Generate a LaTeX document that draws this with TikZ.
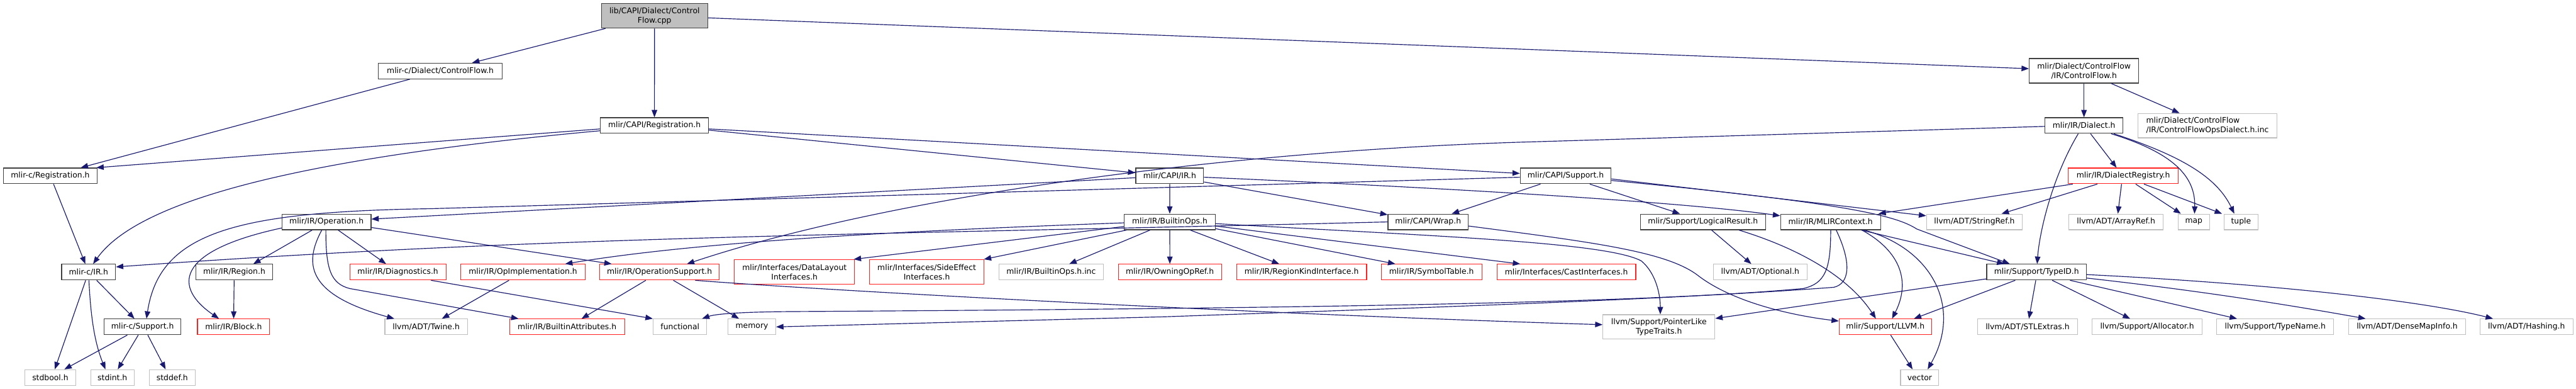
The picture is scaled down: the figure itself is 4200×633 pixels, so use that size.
\documentclass[tikz,border=0pt]{standalone}
\usepackage{fontspec}
\setmainfont{DejaVu Sans}
\usetikzlibrary{arrows.meta,calc}
\definecolor{edgecol}{HTML}{191970}
\definecolor{nodeblk}{HTML}{404040}
\definecolor{nodered}{HTML}{FF2020}
\definecolor{nodegry}{HTML}{BFBFBF}
\definecolor{rootfill}{HTML}{BFBFBF}
\tikzset{
 base/.style={rectangle, inner sep=0pt, minimum height=25.5pt, font=\fontsize{12.7}{15.3}\selectfont, line width=1.2pt, fill=white},
 blk/.style={base, draw=nodeblk},
 redn/.style={base, draw=nodered},
 gryn/.style={base, draw=nodegry},
 rootn/.style={base, draw=nodeblk, fill=rootfill},
 two/.style={minimum height=40pt, align=center},
 dep/.style={draw=edgecol, line width=1.2pt, -{Triangle[length=12pt,width=9pt]}},
}
\begin{document}
\begin{tikzpicture}[x=1pt,y=-1pt]
\useasboundingbox[fill=white] (0,0) rectangle (4200,633);
% row 1
\node[rootn,two,minimum width=173.6pt] (lib) at (1067.2,25.8) {lib/CAPI/Dialect/Control\\Flow.cpp};
% row 2
\node[blk,minimum width=201.8pt] (dialc) at (717.9,115.7) {mlir-c/Dialect/ControlFlow.h};
\node[blk,two,minimum width=178.5pt] (cfh) at (3397.8,115.3) {mlir/Dialect/ControlFlow\\/IR/ControlFlow.h};
% row 3
\node[blk,minimum width=176pt] (regcapi) at (1067,204.5) {mlir/CAPI/Registration.h};
\node[blk,minimum width=126.8pt] (dialect) at (3397.8,204.5) {mlir/IR/Dialect.h};
\node[gryn,minimum height=39.6pt,minimum width=226.8pt,align=left] (cfinc) at (3599.1,204.7) {mlir/Dialect/ControlFlow\\/IR/ControlFlowOpsDialect.h.inc};
% row 4
\node[blk,minimum width=153pt] (regc) at (82,286.5) {mlir-c/Registration.h};
\node[blk,minimum width=110.7pt] (capiir) at (1907.1,286.5) {mlir/CAPI/IR.h};
\node[blk,minimum width=148.2pt] (capisup) at (2552.7,286.5) {mlir/CAPI/Support.h};
\node[redn,minimum width=179pt] (dreg) at (3461.8,286.5) {mlir/IR/DialectRegistry.h};
% row 5
\node[blk,minimum width=145pt] (operation) at (532.4,361.5) {mlir/IR/Operation.h};
\node[blk,minimum width=148pt] (bops) at (1907.2,361.5) {mlir/IR/BuiltinOps.h};
\node[blk,minimum width=130.8pt] (wrap) at (2328.4,361.5) {mlir/CAPI/Wrap.h};
\node[blk,minimum width=204pt] (logres) at (2776.6,361.5) {mlir/Support/LogicalResult.h};
\node[blk,minimum width=163pt] (mlirctx) at (2984.6,361.5) {mlir/IR/MLIRContext.h};
\node[gryn,minimum width=156.2pt] (stringref) at (3219.2,361.5) {llvm/ADT/StringRef.h};
\node[gryn,minimum width=153.6pt] (arrayref) at (3450,361.5) {llvm/ADT/ArrayRef.h};
\node[gryn,minimum width=50.9pt] (map) at (3576.8,361.5) {map};
\node[gryn,minimum width=55pt] (tuple) at (3653.8,361.5) {tuple};
% row 6
\node[blk,minimum width=88pt] (irc) at (144.4,443.3) {mlir-c/IR.h};
\node[blk,minimum width=125.4pt] (region) at (381.9,443.3) {mlir/IR/Region.h};
\node[redn,minimum width=157pt] (diag) at (648.7,443.3) {mlir/IR/Diagnostics.h};
\node[redn,minimum width=202.7pt] (opimpl) at (852.7,443.3) {mlir/IR/OpImplementation.h};
\node[redn,minimum width=195pt] (opsupp) at (1075.3,443.3) {mlir/IR/OperationSupport.h};
\node[redn,two,minimum width=196pt] (dli) at (1295.3,443) {mlir/Interfaces/DataLayout\\Interfaces.h};
\node[redn,two,minimum width=187pt] (sei) at (1511,443) {mlir/Interfaces/SideEffect\\Interfaces.h};
\node[gryn,minimum width=170.5pt] (binc) at (1713.8,443.3) {mlir/IR/BuiltinOps.h.inc};
\node[redn,minimum width=168.3pt] (owning) at (1907.4,443.3) {mlir/IR/OwningOpRef.h};
\node[redn,minimum width=212pt] (rki) at (2122.1,443.3) {mlir/IR/RegionKindInterface.h};
\node[redn,minimum width=164.3pt] (symt) at (2334,443.3) {mlir/IR/SymbolTable.h};
\node[redn,minimum width=226.4pt] (cast) at (2553.8,443.3) {mlir/Interfaces/CastInterfaces.h};
\node[gryn,minimum width=153pt] (optional) at (2869.9,443.3) {llvm/ADT/Optional.h};
\node[blk,minimum width=162.5pt] (typeid) at (3320.5,443.3) {mlir/Support/TypeID.h};
% row 7
\node[blk,minimum width=125.5pt] (supc) at (232.4,532.5) {mlir-c/Support.h};
\node[redn,minimum width=117.8pt] (block) at (380.8,532.5) {mlir/IR/Block.h};
\node[gryn,minimum width=134.4pt] (twine) at (694.8,532.5) {llvm/ADT/Twine.h};
\node[redn,minimum width=187.5pt] (battr) at (924.6,532.5) {mlir/IR/BuiltinAttributes.h};
\node[gryn,minimum width=87pt] (functional) at (1108.7,532.5) {functional};
\node[gryn,minimum width=77.7pt] (memory) at (1225.9,532.5) {memory};
\node[gryn,minimum height=39.6pt,minimum width=182.6pt,align=center] (plt) at (2704.7,532.5) {llvm/Support/PointerLike\\TypeTraits.h};
\node[redn,minimum width=150.4pt] (llvmh) at (3073.9,532.5) {mlir/Support/LLVM.h};
\node[gryn,minimum width=162.5pt] (stlextras) at (3305.8,532.5) {llvm/ADT/STLExtras.h};
\node[gryn,minimum width=179pt] (allocator) at (3500.7,532.5) {llvm/Support/Allocator.h};
\node[gryn,minimum width=190.6pt] (typename) at (3709.6,532.5) {llvm/Support/TypeName.h};
\node[gryn,minimum width=191pt] (densemap) at (3924.6,532.5) {llvm/ADT/DenseMapInfo.h};
\node[gryn,minimum width=151.8pt] (hashing) at (4119.2,532.5) {llvm/ADT/Hashing.h};
% row 8
\node[gryn,minimum width=82.6pt] (stdbool) at (82,615) {stdbool.h};
\node[gryn,minimum width=71pt] (stdint) at (183.3,615) {stdint.h};
\node[gryn,minimum width=75pt] (stddef) at (280.8,615) {stddef.h};
\node[gryn,minimum width=62.5pt] (vector) at (3129.9,615) {vector};

% edges
\draw[dep] (lib) -- (dialc);
\draw[dep] (lib) -- (regcapi);
\draw[dep] (lib) -- (cfh);
\draw[dep] (dialc) -- (regc);
\draw[dep] ([yshift=-5.5pt]regcapi.west) -- ([xshift=-2pt]regc.north east);
\draw[dep] ([yshift=-8.5pt]regcapi.west) .. controls (520,255) and (230,320) .. ([xshift=7.4pt]irc.north);
\draw[dep] ([yshift=-7.5pt]regcapi.east) -- ([yshift=5pt]capiir.west);
\draw[dep] ([yshift=-5.5pt]regcapi.east) -- ([yshift=4pt]capisup.west);
\draw[dep] (regc) -- (irc);
\draw[dep] (irc) -- (supc);
\draw[dep] ([xshift=-4.7pt]irc.south) -- ([xshift=7.3pt]stdbool.north);
\draw[dep] ([xshift=0.6pt]irc.south) .. controls (148,520) and (155,560) .. ([xshift=-11.4pt]stdint.north);
\draw[dep] ([xshift=-24.8pt]supc.south) -- ([xshift=22.9pt]stdbool.north);
\draw[dep] ([xshift=-7pt]supc.south) -- ([xshift=8.7pt]stdint.north);
\draw[dep] ([xshift=8.6pt]supc.south) -- ([xshift=-10.8pt]stddef.north);
\draw[dep] ([yshift=-2.2pt]capisup.west) -- (700,340) .. controls (380,345) and (260,380) .. ([xshift=6.4pt]supc.north);
\draw[dep] (capiir) -- (bops);
\draw[dep] ([yshift=-3pt]capiir.west) -- ([yshift=4.6pt]operation.east);
\draw[dep] (capiir) -- (wrap);
\draw[dep] ([yshift=-2.2pt]capiir.east) .. controls (2400,308) and (2750,330) .. ([yshift=10pt]mlirctx.west);
\draw[dep] ([xshift=-41pt]capisup.south) -- ([xshift=38.6pt]wrap.north);
\draw[dep] ([xshift=39.3pt]capisup.south) -- ([xshift=-37.6pt]logres.north);
\draw[dep] ([yshift=-5pt]capisup.east) -- ([yshift=10pt]stringref.west);
\draw[dep] ([yshift=-7.5pt]capisup.east) .. controls (3000,330) and (3090,350) .. (3125,373) -- ([xshift=-43.7pt]typeid.north);
\draw[dep] (wrap.west) .. controls (1400,383) and (900,384) .. ([yshift=8.5pt]irc.east);
\draw[dep] ([yshift=-6.7pt]wrap.east) .. controls (2600,395) and (2720,410) .. (2770,450) .. controls (2830,495) and (2930,515) .. ([yshift=9.5pt]llvmh.west);
\draw[dep] ([yshift=-2.8pt]bops.east) .. controls (2350,385) and (2620,395) .. (2676,425) .. controls (2700,445) and (2707,480) .. ([xshift=2.3pt]plt.north);
\draw[dep] ([yshift=-1.5pt]bops.west) .. controls (1500,375) and (1150,392) .. ([xshift=68.7pt]opimpl.north);
\draw[dep] ([yshift=-7.5pt]bops.west) -- ([xshift=-2pt]dli.north east);
\draw[dep] ([xshift=-70.5pt]bops.south) -- ([xshift=-1pt]sei.north east);
\draw[dep] ([xshift=-32.2pt]bops.south) -- ([xshift=29.5pt]binc.north);
\draw[dep] (bops) -- (owning);
\draw[dep] ([xshift=33.4pt]bops.south) -- ([xshift=-36.4pt]rki.north);
\draw[dep] ([yshift=-11pt]bops.east) -- ([xshift=-59pt]symt.north);
\draw[dep] ([yshift=-6.7pt]bops.east) -- ([xshift=-75.2pt]cast.north);
\draw[dep] ([xshift=-23.4pt]operation.south) -- ([xshift=31.1pt]region.north);
\draw[dep] ([yshift=-9.9pt]operation.west) .. controls (280,410) and (285,470) .. ([xshift=-23.8pt]block.north);
\draw[dep] ([xshift=18.9pt]operation.south) -- ([xshift=-19.2pt]diag.north);
\draw[dep] ([xshift=-7.8pt]operation.south) .. controls (495,430) and (500,480) .. ([xshift=-51.9pt]twine.north);
\draw[dep] ([xshift=-1.1pt]operation.south) .. controls (531,440) and (540,462) .. (570,470) -- ([xshift=-79.1pt]battr.north);
\draw[dep] ([yshift=-9.1pt]operation.east) -- ([xshift=-78pt]opsupp.north);
\draw[dep] (region) -- (block);
\draw[dep] ([xshift=54pt]diag.south) -- ([xshift=-44.4pt]functional.north);
\draw[dep] ([xshift=-22.8pt]opimpl.south) -- ([xshift=25.7pt]twine.north);
\draw[dep] ([xshift=-22.3pt]opsupp.south) -- ([xshift=23.6pt]battr.north);
\draw[dep] ([xshift=22.5pt]opsupp.south) -- ([xshift=-21pt]memory.north);
\draw[dep] ([xshift=58.2pt]opsupp.south) .. controls (1300,470) and (2000,510) .. ([yshift=3.6pt]plt.west);
\draw[dep] ([yshift=-1.4pt]dialect.west) -- (2500,231) .. controls (2000,245) and (1450,320) .. ([xshift=44.7pt]opsupp.north);
\draw[dep] (cfh) -- (dialect);
\draw[dep] ([xshift=44.2pt]cfh.south) -- ([xshift=-45.5pt]cfinc.north);
\draw[dep] ([xshift=10.7pt]dialect.south) -- ([xshift=-10.9pt]dreg.north);
\draw[dep] ([xshift=-9.4pt]dialect.south) .. controls (3345,290) and (3325,380) .. ([xshift=0.9pt]typeid.north);
\draw[dep] ([xshift=44.2pt]dialect.south) .. controls (3530,245) and (3580,280) .. ([xshift=1.2pt]map.north);
\draw[dep] ([xshift=48.6pt]dialect.south) .. controls (3560,255) and (3615,290) .. ([xshift=-10.9pt]tuple.north);
\draw[dep] ([xshift=-82.3pt]dreg.south) -- ([xshift=-4pt]mlirctx.north east);
\draw[dep] ([xshift=-42.2pt]dreg.south) -- ([xshift=44.2pt]stringref.north);
\draw[dep] ([xshift=-2.8pt]dreg.south) -- ([xshift=3pt]arrayref.north);
\draw[dep] ([xshift=20.2pt]dreg.south) -- ([xshift=-21pt]map.north);
\draw[dep] ([xshift=33.7pt]dreg.south) -- ([xshift=-31pt]tuple.north);
\draw[dep] ([xshift=14pt]logres.south) -- ([xshift=-14.5pt]optional.north);
\draw[dep] ([xshift=58.7pt]logres.south) .. controls (2950,410) and (3020,460) .. ([xshift=-15.4pt]llvmh.north);
\draw[dep] ([xshift=0.2pt]mlirctx.south) .. controls (2985,440) and (2975,462) .. (2940,470) .. controls (2700,492) and (2200,502) .. (1300,507.5) .. controls (1200,508) and (1165,512) .. ([xshift=36pt]functional.north);
\draw[dep] ([xshift=9.2pt]mlirctx.south) .. controls (3020,430) and (3015,462) .. (2990,468) .. controls (2700,490) and (2200,505) .. (1900,516) -- (memory.east);
\draw[dep] ([xshift=51.1pt]mlirctx.south) .. controls (3100,410) and (3115,460) .. ([xshift=10.9pt]llvmh.north);
\draw[dep] ([xshift=55pt]mlirctx.south) .. controls (3150,405) and (3200,500) .. ([xshift=13pt]vector.north);
\draw[dep] ([xshift=50pt]mlirctx.south) -- ([xshift=-52.6pt]typeid.north);
\draw[dep] ([yshift=-11pt]typeid.west) -- ([yshift=13.7pt]plt.east);
\draw[dep] ([xshift=-34.8pt]typeid.south) -- ([xshift=46.6pt]llvmh.north);
\draw[dep] ([xshift=-1.3pt]typeid.south) -- ([xshift=2.2pt]stlextras.north);
\draw[dep] ([xshift=25.5pt]typeid.south) -- ([xshift=-27.7pt]allocator.north);
\draw[dep] ([xshift=54.5pt]typeid.south) -- ([xshift=-62.3pt]typename.north);
\draw[dep] ([yshift=-9.7pt]typeid.east) .. controls (3600,475) and (3750,500) .. ([xshift=-67.6pt]densemap.north);
\draw[dep] ([yshift=-4pt]typeid.east) .. controls (3700,462) and (3950,490) .. ([xshift=-54.5pt]hashing.north);
\draw[dep] ([xshift=8.7pt]llvmh.south) -- ([xshift=-11.6pt]vector.north);
\end{tikzpicture}
\end{document}
